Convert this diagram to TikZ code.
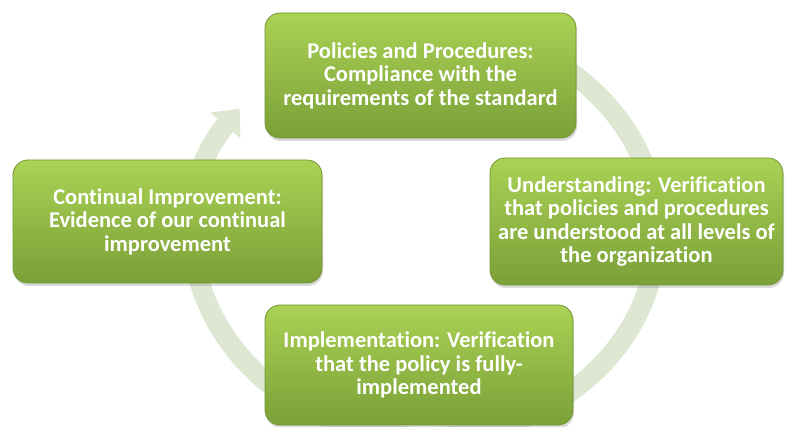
\documentclass[tikz,border=0pt]{standalone}
\usepackage{fontspec}
\setmainfont[Ligatures=NoCommon]{Carlito}
\usetikzlibrary{arrows.meta,shadows}

\definecolor{ringgreen}{RGB}{221,231,210}
\definecolor{boxtop}{RGB}{170,210,84}
\definecolor{boxbottom}{RGB}{122,160,56}
\definecolor{boxedge}{RGB}{116,150,52}

\tikzset{
    stagebox/.style={rounded corners=15pt,top color=boxtop,bottom color=boxbottom,
        draw=boxedge,line width=0.8pt,text=white,align=center,
        font=\fontsize{22.5}{23.5}\selectfont\bfseries,
        drop shadow={opacity=0.3,shadow xshift=1pt,shadow yshift=-3pt}},
}

\begin{document}
\begin{tikzpicture}[x=1pt,y=-1pt]
        \pgfmathsetmacro\cx{425}
        \pgfmathsetmacro\cy{232}
        \pgfmathsetmacro\rx{232}
        \pgfmathsetmacro\ry{205}
        \useasboundingbox (0,0) rectangle (785,427);
        % ring behind the boxes
        \coordinate (tail) at ({\cx+\rx*cos(235)},{\cy+\ry*sin(235)});
        \draw[ringgreen,line width=20pt,-{Triangle[width=38pt,length=22pt]}] (tail)
            arc[start angle=235,end angle=577,x radius=\rx,y radius=\ry];
        % the four stages
        \node[stagebox,minimum width=311pt,minimum height=125pt] (policy) at (420.5,75.5)
            {Policies and Procedures:\\Compliance with the\\requirements of the standard};
        \node[stagebox,minimum width=293pt,minimum height=127pt] (understand) at (636.5,221.5)
            {Understanding: Verification\\that policies and procedures\\are understood at all levels of\\the organization};
        \node[stagebox,minimum width=308pt,minimum height=120pt] (implement) at (419,365)
            {Implementation: Verification\\that the policy is fully-\\implemented};
        \node[stagebox,minimum width=309pt,minimum height=123pt] (improve) at (167.5,221.5)
            {Continual Improvement:\\Evidence of our continual\\improvement};
    \end{tikzpicture}
\end{document}
